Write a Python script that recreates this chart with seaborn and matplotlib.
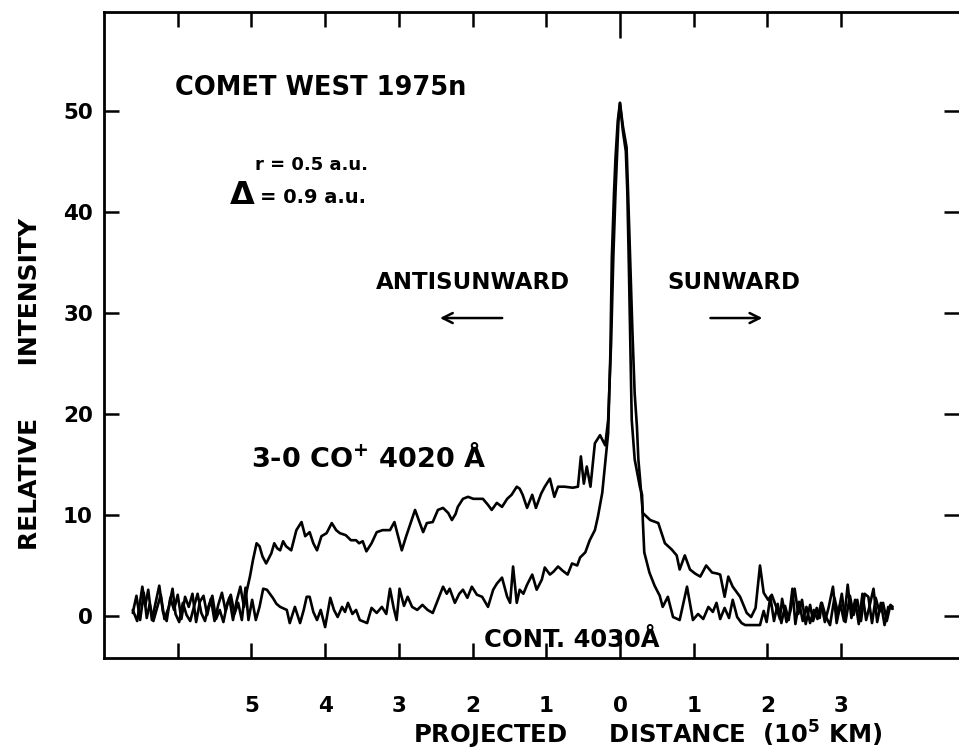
import matplotlib
matplotlib.use("Agg")
import matplotlib.pyplot as plt
import seaborn as sns
import pandas as pd

# ---------------- data (distance in 1e5 km, antisunward negative) ----------------
co_dist = [
    -6.61, -6.55, -6.48, -6.44, -6.40, -6.35, -6.30, -6.25, -6.20, -6.15,
    -6.10, -6.05, -6.00, -5.95, -5.90, -5.85, -5.80, -5.75, -5.70, -5.65,
    -5.60, -5.55, -5.50, -5.45, -5.40, -5.35, -5.30, -5.25, -5.20, -5.15,
    -5.10, -5.06,
    -5.02, -4.98, -4.93, -4.89, -4.85, -4.80, -4.73, -4.69, -4.65, -4.61,
    -4.57, -4.53, -4.46, -4.39, -4.32, -4.27, -4.21, -4.16, -4.11, -4.05,
    -3.98, -3.91, -3.85, -3.80, -3.72, -3.65, -3.58, -3.54, -3.49, -3.44,
    -3.37, -3.30, -3.22, -3.12, -3.06, -3.01, -2.96, -2.90, -2.84, -2.78,
    -2.73, -2.67, -2.62, -2.54, -2.47, -2.40, -2.33, -2.28, -2.23, -2.20,
    -2.13, -2.06, -1.99, -1.93, -1.86, -1.79, -1.74, -1.67, -1.60, -1.53,
    -1.47, -1.40, -1.36, -1.32, -1.26, -1.19, -1.14, -1.07, -1.02, -0.95,
    -0.89, -0.84, -0.75, -0.64, -0.57, -0.53, -0.49, -0.45, -0.40, -0.34,
    -0.27, -0.20, -0.16, -0.12, -0.09, -0.06, -0.04, -0.02, 0.00,
    0.04, 0.08, 0.10, 0.12, 0.14, 0.16, 0.20, 0.27, 0.30, 0.31,
    0.33, 0.40, 0.47, 0.54, 0.58,
    0.65, 0.72, 0.81, 0.91, 0.99, 1.06, 1.13, 1.20, 1.26, 1.31,
    1.36, 1.42, 1.48, 1.53, 1.59, 1.65, 1.70, 1.80, 1.90, 1.95,
    1.99, 2.04, 2.09, 2.14, 2.19, 2.24, 2.29, 2.34, 2.38, 2.43,
    2.48, 2.53, 2.58, 2.63, 2.68, 2.73, 2.78, 2.83, 2.89, 2.94,
    2.99, 3.04, 3.09, 3.14, 3.19, 3.24, 3.29, 3.34, 3.39, 3.44,
    3.49, 3.54, 3.59, 3.64, 3.70,
]
co_int = [
    0.6, -0.5, 2.9, 1.0, 2.6, -0.4, 1.3, 3.0, 0.4, -0.5,
    1.8, 0.6, 2.1, -0.3, 1.9, 0.9, 2.2, -0.6, 1.4, 2.0,
    0.1, 1.7, -0.5, 1.1, 2.3, 0.5, 1.8, -0.4, 1.5, 2.9,
    0.9, 2.6,
    3.9, 5.5, 7.2, 6.9, 5.9, 5.2, 6.2, 7.2, 6.7, 6.5,
    7.4, 6.9, 6.5, 8.5, 9.3, 7.9, 8.3, 7.2, 6.5, 7.9,
    8.2, 9.2, 8.5, 8.2, 8.0, 7.5, 7.5, 7.2, 7.4, 6.4,
    7.2, 8.3, 8.5, 8.5, 9.3, 7.9, 6.5, 7.9, 9.2, 10.5,
    9.5, 8.3, 9.2, 9.3, 10.5, 10.7, 10.2, 9.5, 10.1, 10.8,
    11.6, 11.8, 11.6, 11.6, 11.6, 11.0, 10.5, 11.2, 10.8, 11.6,
    12.0, 12.8, 12.6, 12.0, 10.7, 12.0, 10.7, 12.1, 12.8, 13.6,
    11.8, 12.8, 12.8, 12.7, 12.8, 15.8, 13.1, 14.8, 12.8, 17.1,
    17.9, 16.9, 19.4, 27.0, 35.5, 42.0, 45.4, 49.0, 50.8,
    48.0, 46.0, 42.0, 35.0, 27.0, 19.4, 15.5, 12.8, 12.0, 9.5,
    6.3, 4.3, 3.0, 2.0, 0.9,
    1.9, -0.1, -0.4, 2.9, -0.4, 0.2, -0.3, 0.9, 0.4, 1.3,
    -0.3, 0.8, -0.2, 1.6, -0.1, -0.7, -0.9, -0.9, -0.9, 0.5,
    -0.6, 1.9, -0.5, 1.2, -0.7, 1.0, -0.4, 2.7, -0.8, 1.4,
    -0.5, 0.9, -0.7, 0.6, -0.3, 1.3, -0.6, 0.8, 2.9, -0.7,
    1.2, -0.5, 3.1, -0.2, 1.6, -0.8, 2.2, -0.4, 1.1, 2.7,
    -0.6, 1.3, -0.9, 0.9, 0.7,
]

cont_dist = [
    -6.61, -6.56, -6.51, -6.46, -6.42, -6.38, -6.33, -6.28, -6.23, -6.18,
    -6.12, -6.07, -6.03, -5.98, -5.93, -5.88, -5.83, -5.78, -5.73, -5.68,
    -5.63, -5.58, -5.53, -5.48, -5.43, -5.38, -5.33, -5.28, -5.23, -5.18,
    -5.13, -5.08, -5.04, -4.99, -4.94, -4.89, -4.84, -4.79, -4.71, -4.66,
    -4.61, -4.52, -4.48, -4.41, -4.34, -4.29, -4.25, -4.21, -4.16, -4.11,
    -4.06, -4.00, -3.93, -3.88, -3.83, -3.77, -3.73, -3.69, -3.63, -3.58,
    -3.53, -3.43, -3.37, -3.30, -3.23, -3.17, -3.12, -3.07, -3.03, -2.99,
    -2.93, -2.88, -2.82, -2.75, -2.68, -2.61, -2.54, -2.47, -2.40, -2.35,
    -2.31, -2.24, -2.18, -2.13, -2.07, -2.01, -1.94, -1.87, -1.79, -1.72,
    -1.67, -1.60, -1.53, -1.49, -1.45, -1.40, -1.36, -1.31, -1.26, -1.19,
    -1.13, -1.06, -1.02, -0.95, -0.90, -0.84, -0.78, -0.71, -0.65, -0.58,
    -0.54, -0.47, -0.41, -0.34, -0.30, -0.24, -0.20, -0.16, -0.13, -0.11,
    -0.08, -0.06, -0.03, 0.00,
    0.04, 0.09, 0.11, 0.14, 0.17, 0.20, 0.23, 0.25, 0.27, 0.31,
    0.41, 0.52, 0.61, 0.70, 0.77, 0.81, 0.88, 0.95, 1.02, 1.09,
    1.17, 1.25, 1.32, 1.36, 1.42, 1.47, 1.53, 1.63, 1.72, 1.78,
    1.84, 1.90, 1.95, 2.01, 2.06, 2.12, 2.17, 2.20, 2.26, 2.31,
    2.37, 2.42, 2.47, 2.52, 2.58, 2.62, 2.67, 2.71, 2.74, 2.79,
    2.85, 2.91, 2.96, 3.01, 3.06, 3.12, 3.17, 3.22, 3.27, 3.32,
    3.37, 3.42, 3.47, 3.52, 3.57, 3.62, 3.67, 3.70,
]
cont_int = [
    0.3, 2.0, -0.4, 2.3, -0.2, 1.2, -0.5, 0.8, 2.1, -0.3,
    0.9, 2.7, 0.2, -0.6, 1.3, 0.1, -0.5, 0.9, 2.2, 0.3,
    -0.5, 1.0, 2.0, -0.3, 0.6, -0.6, 1.2, 2.1, 0.2, 1.3,
    -0.4, 2.8, -0.4, 1.6, -0.4, 0.9, 2.7, 2.6, 1.8, 1.2,
    0.9, 0.6, -0.7, 0.9, -0.7, 0.6, 1.9, 1.9, 0.4, -0.4,
    0.6, -1.1, 1.8, 0.6, -0.1, 0.9, 0.4, 1.3, 0.2, 0.6,
    -0.4, -0.7, 0.8, 0.3, 0.9, 0.2, 2.7, 0.8, -0.4, 2.7,
    1.0, 1.9, 0.9, 0.6, 1.1, 0.6, 0.3, 1.6, 2.9, 2.2,
    2.7, 1.3, 2.2, 2.6, 1.8, 2.9, 2.1, 1.9, 0.9, 2.6,
    3.2, 3.8, 1.9, 1.3, 4.9, 1.3, 2.6, 2.2, 3.1, 4.1,
    2.6, 3.6, 4.8, 4.1, 4.4, 4.9, 4.5, 4.1, 5.2, 5.0,
    5.8, 6.3, 7.5, 8.5, 9.8, 12.2, 15.1, 18.1, 26.0, 35.5,
    42.0, 45.4, 49.0, 50.8,
    48.5, 46.4, 42.0, 35.0, 28.0, 22.0, 18.8, 15.5, 13.8, 10.2,
    9.5, 9.2, 7.2, 6.6, 6.0, 4.6, 6.0, 4.6, 4.2, 3.9,
    5.0, 4.3, 4.2, 4.1, 1.9, 3.9, 2.9, 1.9, 0.3, -0.1,
    0.8, 5.0, 2.3, 1.6, 2.1, 0.9, -0.3, 1.7, -0.6, 0.4,
    2.7, 0.2, 1.6, -0.8, 1.1, -0.5, 0.8, -0.2, 1.3, 0.0,
    -0.9, 1.8, 0.2, 2.2, -0.6, 2.0, 0.1, 1.6, -0.5, 2.2,
    1.9, -0.7, 1.8, 0.4, 1.3, -0.5, 1.1, 0.9,
]

x_ticks = [-6, -5, -4, -3, -2, -1, 0, 1, 2, 3]
x_tick_labels = ["", "5", "4", "3", "2", "1", "0", "1", "2", "3"]
y_ticks = [0, 10, 20, 30, 40, 50]
y_tick_labels = ["0", "10", "20", "30", "40", "50"]

# ---------------- style ----------------
sns.set_style("white")
plt.rcParams["font.family"] = ["DejaVu Sans"]
plt.rcParams["font.weight"] = "bold"
plt.rcParams["mathtext.fontset"] = "dejavusans"
plt.rcParams["mathtext.default"] = "bf"
for key in ["text.color", "axes.labelcolor", "xtick.color", "ytick.color",
            "axes.edgecolor"]:
    plt.rcParams[key] = "black"

fig = plt.figure(figsize=(9.59, 7.53), dpi=100)
fig.patch.set_facecolor("white")
ax = fig.add_axes([104 / 959, 1 - 658 / 753, 1 - 104 / 959, (658 - 12) / 753])

df_co = pd.DataFrame({"distance": co_dist, "intensity": co_int})
df_cont = pd.DataFrame({"distance": cont_dist, "intensity": cont_int})

sns.lineplot(data=df_co, x="distance", y="intensity", sort=False, estimator=None,
             color="black", lw=1.9, ax=ax)
sns.lineplot(data=df_cont, x="distance", y="intensity", sort=False, estimator=None,
             color="black", lw=1.9, ax=ax)

ax.set_xlim(-7.0, 4.6)
ax.set_ylim(-4.16, 59.8)

for side in ["left", "bottom", "top"]:
    ax.spines[side].set_linewidth(2.0)
    ax.spines[side].set_color("black")
ax.spines["right"].set_visible(False)

ax.set_xticks(x_ticks)
ax.set_xticklabels(x_tick_labels, fontsize=15.5, fontweight="bold", color="black")
ax.set_yticks(y_ticks)
ax.set_yticklabels(y_tick_labels, fontsize=15.5, fontweight="bold", color="black")
ax.tick_params(axis="both", direction="in", length=11, width=1.8, color="black",
               labelcolor="black", top=True, right=True, bottom=True, left=True)
ax.tick_params(axis="x", pad=27)
ax.tick_params(axis="y", pad=8)
zero_tick = ax.xaxis.get_major_ticks()[x_ticks.index(0)]
zero_tick.tick1line.set_markersize(19)
zero_tick.tick2line.set_markersize(19)

ax.set_xlabel("PROJECTED     DISTANCE  (10$^{5}$ KM)", fontsize=17.5, fontweight="bold",
              color="black")
ax.xaxis.set_label_coords((648 - 104) / 855, (658 - 735) / 646)
ax.xaxis.label.set_verticalalignment("center")
ax.set_ylabel("RELATIVE      INTENSITY", fontsize=18, fontweight="bold", color="black")
ax.yaxis.set_label_coords((30 - 104) / 855, (658 - 384) / 646)
ax.yaxis.label.set_verticalalignment("center")

# ---------------- annotations ----------------
ax.text(-6.04, 52.3, "COMET WEST 1975n", fontsize=18.5, fontweight="bold",
        ha="left", va="center", color="black")
ax.text(-4.95, 44.7, "r = 0.5 a.u.", fontsize=13, fontweight="bold",
        ha="left", va="center", color="black")
ax.text(-5.29, 41.6, "Δ", fontsize=23, fontweight="bold", ha="left", va="center",
        color="black")
ax.text(-4.88, 41.4, "= 0.9 a.u.", fontsize=14, fontweight="bold",
        ha="left", va="center", color="black")

ax.text(-3.31, 33.0, "ANTISUNWARD", fontsize=16.5, fontweight="bold", ha="left",
        va="center", color="black")
ax.text(0.65, 33.0, "SUNWARD", fontsize=16.5, fontweight="bold", ha="left",
        va="center", color="black")
ax.annotate("", xy=(-2.48, 29.5), xytext=(-1.56, 29.5),
            arrowprops=dict(arrowstyle="->", lw=1.8, color="black", mutation_scale=18))
ax.annotate("", xy=(1.97, 29.5), xytext=(1.19, 29.5),
            arrowprops=dict(arrowstyle="->", lw=1.8, color="black", mutation_scale=18))

ax.text(-5.0, 15.6, "3-0 CO$^{+}$ 4020 Å", fontsize=19.5, fontweight="bold",
        ha="left", va="center", color="black")
ax.text(-1.85, -2.4, "CONT. 4030Å", fontsize=17.5, fontweight="bold",
        ha="left", va="center", color="black")

fig.savefig("out.png", dpi=100, facecolor="white")
